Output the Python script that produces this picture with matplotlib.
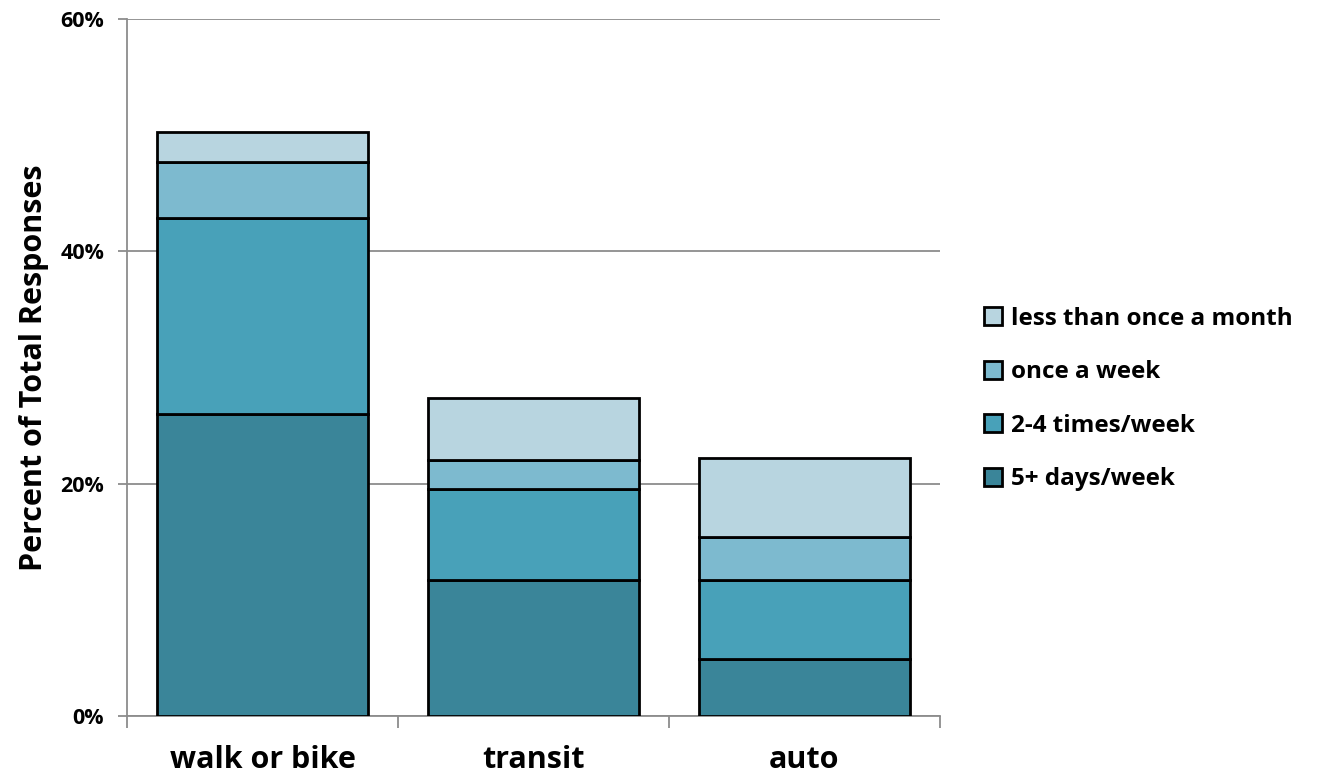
import matplotlib.pyplot as plt
import numpy as np

plt.rcParams['font.family'] = ['Open Sans', 'DejaVu Sans']
plt.rcParams['font.weight'] = 'bold'

categories = ['walk or bike', 'transit', 'auto']
series_names = ['5+ days/week', '2-4 times/week', 'once a week', 'less than once a month']
five_plus = [26.0, 11.7, 4.9]
two_four = [16.9, 7.8, 6.8]
once_week = [4.8, 2.5, 3.7]
less_month = [2.6, 5.4, 6.8]
colors = ['#3A8599', '#48A1B9', '#7DBACF', '#B8D5E0']

fig = plt.figure(figsize=(13.23, 7.78), dpi=100)
ax = fig.add_axes([127/1323, 62/778, 813/1323, 697/778])

x = np.arange(len(categories))
bottom = np.zeros(len(categories))
handles = []
for vals, name, c in zip([five_plus, two_four, once_week, less_month], series_names, colors):
    b = ax.bar(x, vals, 0.78, bottom=bottom, color=c, edgecolor='black', linewidth=2, label=name, zorder=3)
    handles.append(b)
    bottom += np.array(vals)

ax.set_xlim(-0.5, 2.5)
ax.set_ylim(0, 60)
ax.set_yticks([0, 20, 40, 60])
ax.set_yticklabels(['0%', '20%', '40%', '60%'], fontsize=15.5, fontweight='bold')
ax.yaxis.grid(True, color='#8c8c8c', linewidth=1.3, zorder=0)
ax.set_xticks(x)
ax.set_xticklabels(categories, fontsize=22, fontweight='bold')
ax.tick_params(axis='x', which='major', length=0, pad=21)
ax.set_xticks([-0.5, 0.5, 1.5, 2.5], minor=True)
ax.tick_params(axis='x', which='minor', length=8.5, color='#8c8c8c', width=1.3)
ax.tick_params(axis='y', length=6.5, color='#8c8c8c', width=1.3, pad=10)
for s in ['top', 'right']:
    ax.spines[s].set_visible(False)
for s in ['left', 'bottom']:
    ax.spines[s].set_color('#8c8c8c')
    ax.spines[s].set_linewidth(1.3)
ax.set_ylabel('Percent of Total Responses', fontsize=22, fontweight='bold', labelpad=8)

leg = fig.legend(handles[::-1], series_names[::-1], loc='center left', bbox_to_anchor=(962/1323, 1 - 399/778),
                 frameon=False, handlelength=0.75, handleheight=0.75, handletextpad=0.35,
                 labelspacing=1.22, prop={'weight': 'bold', 'size': 17.5})

fig.savefig('out.png', dpi=100)
